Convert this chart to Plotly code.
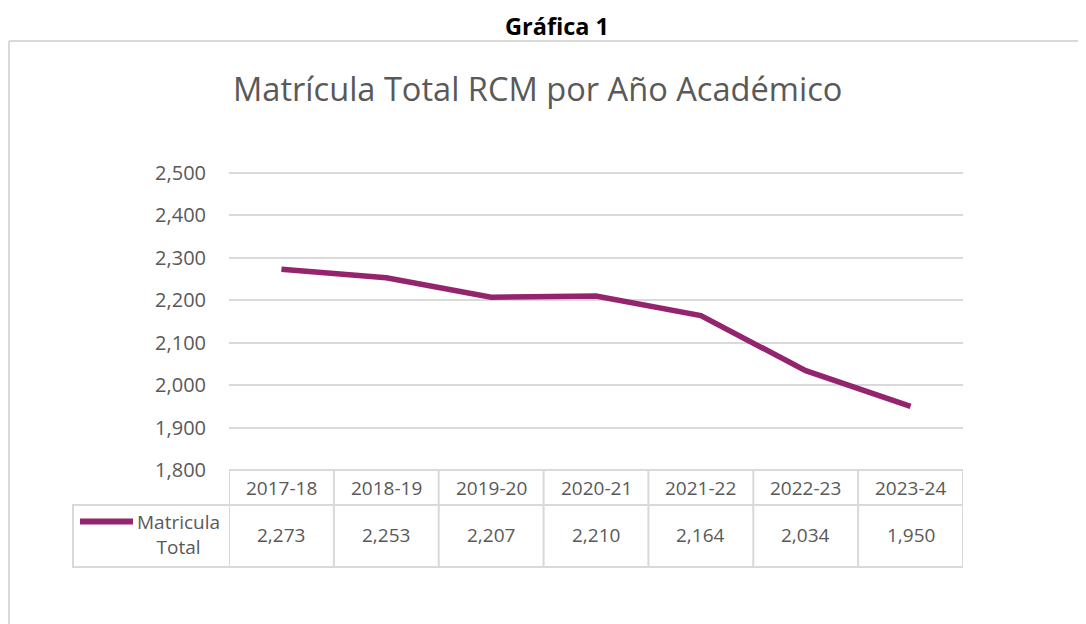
import plotly.graph_objects as go

categories = ["2017-18", "2018-19", "2019-20", "2020-21", "2021-22", "2022-23", "2023-24"]
values = [2273, 2253, 2207, 2210, 2164, 2034, 1950]
series_name = "Matricula<br>Total"
y_ticks = [1800, 1900, 2000, 2100, 2200, 2300, 2400, 2500]

W, H = 1086, 624
OFF = 8  # page body margin
LINE = "#95246E"
GRID = "#d9d9d9"
TXT = "#595959"
FONT = "Open Sans"

def px(x):
    return (x - OFF) / W

def py(y):
    return 1 - (y - OFF) / H

fig = go.Figure()
fig.add_trace(go.Scatter(
    x=list(range(len(categories))), y=values, mode="lines",
    line=dict(color=LINE, width=5.5), showlegend=False, hoverinfo="skip"))

shapes = []
annotations = []

# outer frame
shapes.append(dict(type="line", xref="paper", yref="paper",
                   x0=px(9), x1=1, y0=py(41), y1=py(41),
                   line=dict(color=GRID, width=2)))
shapes.append(dict(type="line", xref="paper", yref="paper",
                   x0=px(9), x1=px(9), y0=py(41), y1=0,
                   line=dict(color=GRID, width=2)))

# table
y_head_top, y_row_top, y_bottom = 470, 505, 567
n = len(categories)
for i in range(n + 1):
    shapes.append(dict(type="line", xref="x", yref="paper",
                       x0=i - 0.5, x1=i - 0.5, y0=py(y_head_top), y1=py(y_bottom),
                       line=dict(color=GRID, width=2)))
shapes.append(dict(type="line", xref="paper", yref="paper",
                   x0=px(73), x1=px(73), y0=py(y_row_top), y1=py(y_bottom),
                   line=dict(color=GRID, width=2)))
for yy in (y_row_top, y_bottom):
    shapes.append(dict(type="line", xref="paper", yref="paper",
                       x0=px(72), x1=px(963), y0=py(yy), y1=py(yy),
                       line=dict(color=GRID, width=2)))
shapes.append(dict(type="line", xref="x", yref="paper",
                   x0=-0.5, x1=n - 0.5, y0=py(y_head_top), y1=py(y_head_top),
                   line=dict(color=GRID, width=2)))
# legend key
shapes.append(dict(type="line", xref="paper", yref="paper",
                   x0=px(80), x1=px(133), y0=py(521.5), y1=py(521.5),
                   line=dict(color=LINE, width=6)))

def ann(**kw):
    kw.setdefault("showarrow", False)
    kw.setdefault("xanchor", "center")
    kw.setdefault("yanchor", "middle")
    annotations.append(kw)

for i, (c, v) in enumerate(zip(categories, values)):
    ann(x=i, y=py(488), xref="x", yref="paper", text=c,
        font=dict(size=19, color=TXT, family=FONT))
    ann(x=i, y=py(535), xref="x", yref="paper", text=f"{v:,}",
        font=dict(size=19, color=TXT, family=FONT))
ann(x=px(179), y=py(534), xref="paper", yref="paper", text=series_name, align="center",
    font=dict(size=19, color=TXT, family=FONT))
ann(x=px(557), y=py(26), xref="paper", yref="paper", text="<b>Gráfica 1</b>",
    font=dict(size=23.5, color="black", family=FONT))
ann(x=px(537), y=py(89), xref="paper", yref="paper",
    text="Matrícula Total RCM por Año Académico",
    font=dict(size=32.6, color=TXT, family=FONT))

# y axis: 1800 at pixel 470, 2500 at pixel 173; extend range a bit above 2500
Y0, Y1 = 1800, 2520
pix_per_unit = (470 - 173) / (2500 - 1800)
top_pix = 470 - (Y1 - Y0) * pix_per_unit

fig.update_layout(
    width=W, height=H, margin=dict(l=0, r=0, t=0, b=0, pad=0, autoexpand=False),
    paper_bgcolor="white", plot_bgcolor="white",
    shapes=shapes, annotations=annotations,
    xaxis=dict(domain=[px(229), px(963)], range=[-0.5, n - 0.5], automargin=False,
               showticklabels=False, showgrid=False, zeroline=False, fixedrange=True),
    yaxis=dict(domain=[py(470), py(top_pix)], range=[Y0, Y1], tickvals=y_ticks,
               tickformat=",d", showgrid=True, gridcolor=GRID, gridwidth=2,
               zeroline=False, ticklabelstandoff=22, automargin=False,
               tickfont=dict(size=20, color=TXT, family=FONT)),
)
fig.write_html("out.html")
